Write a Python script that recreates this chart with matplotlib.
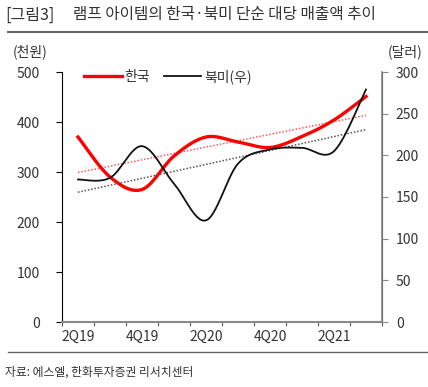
import numpy as np
import matplotlib
matplotlib.use("Agg")
import matplotlib.pyplot as plt

plt.rcParams['font.family'] = ['Noto Sans CJK KR', 'DejaVu Sans']

# 데이터
quarters = ['2Q19', '3Q19', '4Q19', '1Q20', '2Q20', '3Q20', '4Q20', '1Q21', '2Q21', '3Q21']
korea = [370, 290, 265, 332, 370, 360, 349, 371, 404, 451]      # 천원 (좌)
na = [171, 173, 211, 166, 122, 190, 207, 209, 205, 279]          # 달러 (우)
xlabels = ['2Q19', '4Q19', '2Q20', '4Q20', '2Q21']


def smooth(y, n=30):
    # 엑셀식 부드러운 선 (Catmull-Rom 베지어)
    y = np.asarray(y, dtype=float)
    x = np.arange(len(y), dtype=float)
    px, py = [], []
    for i in range(len(y) - 1):
        y0 = y[i - 1] if i > 0 else y[i]
        y3 = y[i + 2] if i + 2 < len(y) else y[i + 1]
        x0 = x[i - 1] if i > 0 else x[i]
        x3 = x[i + 2] if i + 2 < len(y) else x[i + 1]
        c1x = x[i] + (x[i + 1] - x0) / 6
        c1y = y[i] + (y[i + 1] - y0) / 6
        c2x = x[i + 1] - (x3 - x[i]) / 6
        c2y = y[i + 1] - (y3 - y[i]) / 6
        t = np.linspace(0, 1, n)
        bx = (1 - t) ** 3 * x[i] + 3 * (1 - t) ** 2 * t * c1x + 3 * (1 - t) * t ** 2 * c2x + t ** 3 * x[i + 1]
        by = (1 - t) ** 3 * y[i] + 3 * (1 - t) ** 2 * t * c1y + 3 * (1 - t) * t ** 2 * c2y + t ** 3 * y[i + 1]
        px.extend(bx)
        py.extend(by)
    return np.array(px), np.array(py)


fig = plt.figure(figsize=(4.28, 3.87), dpi=100)
ax = fig.add_axes([62 / 428, 1 - 322 / 387, 320 / 428, 250 / 387])
ax2 = ax.twinx()

x = np.arange(len(quarters))
kx, ky = smooth(korea)
nx, ny = smooth(na)

# 추세선
kfit = np.polyfit(x, korea, 1)
nfit = np.polyfit(x, na, 1)
ax.plot(x, np.polyval(kfit, x), color='#ff5a5a', lw=1.1, ls=(0, (1, 1.2)))
ax2.plot(x, np.polyval(nfit, x), color='#555555', lw=1.1, ls=(0, (1, 1.2)))

ax.plot(kx, ky, color='#ff0000', lw=2.4, label='한국', zorder=3)
ax2.plot(nx, ny, color='#111111', lw=1.3, label='북미(우)', zorder=4)

ax.set_xlim(-0.5, 9.5)
ax.set_ylim(0, 500)
ax2.set_ylim(0, 300)
ax.set_yticks(range(0, 501, 100))
ax2.set_yticks(range(0, 301, 50))

ax.set_xticks(np.arange(-0.5, 10, 1))
ax.set_xticklabels([])
ax.set_xticks([0, 2, 4, 6, 8], minor=True)
ax.set_xticklabels(xlabels, minor=True)
ax.tick_params(axis='x', which='minor', length=0, pad=6, labelsize=10, labelcolor='#333333')
ax.tick_params(axis='x', which='major', length=3, direction='out', color='#555555')
ax.tick_params(axis='y', length=4, labelsize=10, labelcolor='#333333', pad=12)
ax2.tick_params(axis='y', length=4, labelsize=10, labelcolor='#333333', color='#888888', pad=6)

for a in (ax, ax2):
    a.spines['top'].set_visible(False)
ax.spines['left'].set_color('black')
ax.spines['bottom'].set_color('#888888')
ax.spines['bottom'].set_linewidth(1.5)
ax2.spines['right'].set_color('#888888')
ax2.spines['right'].set_linewidth(1.2)
ax2.spines['left'].set_visible(False)
ax2.spines['bottom'].set_visible(False)

h1, l1 = ax.get_legend_handles_labels()
h2, l2 = ax2.get_legend_handles_labels()
ax.legend(h1 + h2, l1 + l2, loc='upper left', bbox_to_anchor=(0.03, 1.06), ncol=2,
          frameon=False, fontsize=10, handlelength=2.7, columnspacing=1.0, handletextpad=0.2,
          labelcolor='#333333')

fig.text(30 / 428, 1 - 52 / 387, '(천원)', ha='center', va='center', fontsize=10, color='#333333')
fig.text(405 / 428, 1 - 52 / 387, '(달러)', ha='center', va='center', fontsize=10, color='#333333')

fig.text(5 / 428, 1 - 15 / 387, '[그림3]', ha='left', va='center', fontsize=11.5, color='#333333')
fig.text(73 / 428, 1 - 15 / 387, '램프 아이템의 한국·북미 단순 대당 매출액 추이', ha='left', va='center',
         fontsize=11.3, color='#333333')
fig.add_artist(plt.Line2D([8 / 428, 1], [1 - 32 / 387] * 2, color='#666666', lw=1.5))
fig.add_artist(plt.Line2D([8 / 428, 1], [1 - 352 / 387] * 2, color='#666666', lw=1.0))
fig.text(5 / 428, 1 - 372 / 387, '자료: 에스엘, 한화투자증권 리서치센터', ha='left', va='center',
         fontsize=8.5, color='#333333')

fig.savefig('out.png', dpi=100)
